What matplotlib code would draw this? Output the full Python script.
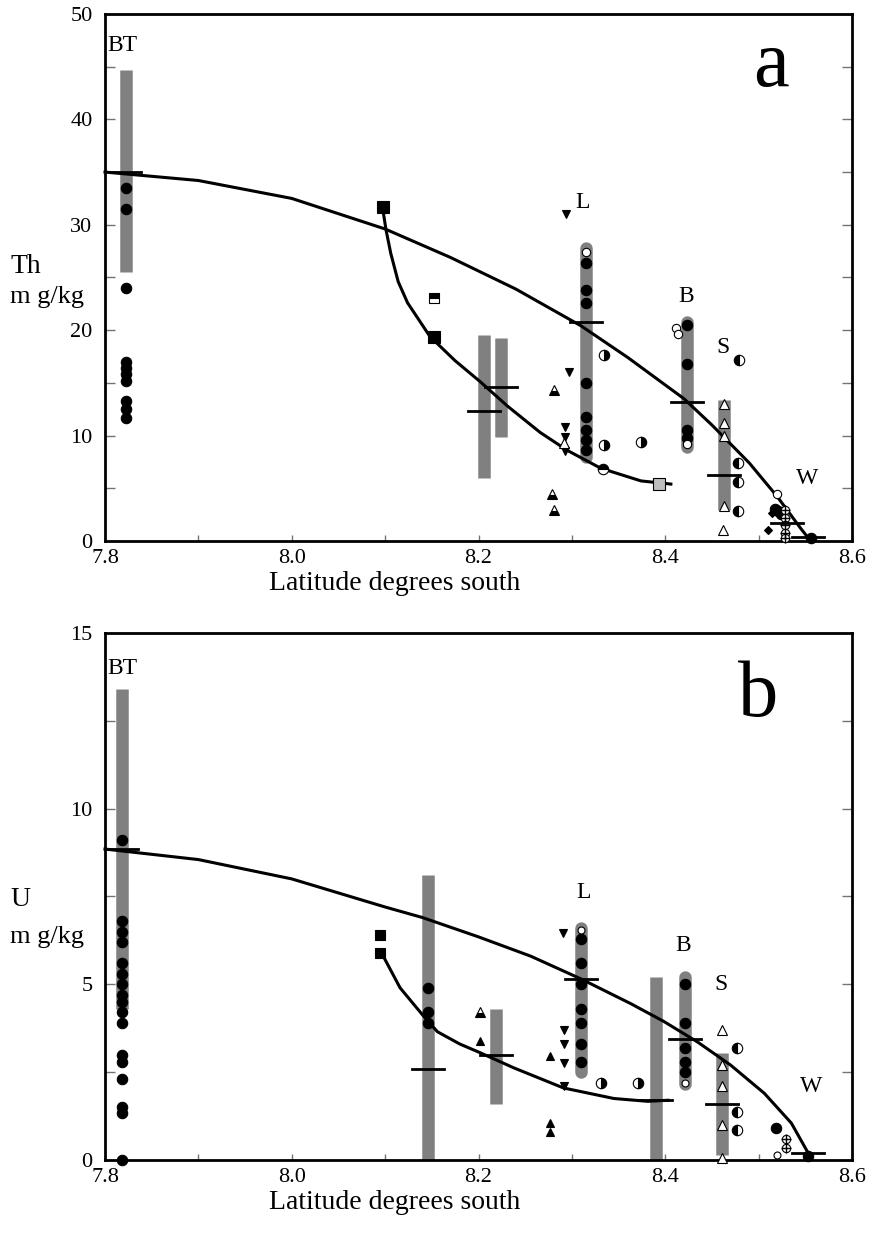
import matplotlib
matplotlib.use("Agg")
import matplotlib.pyplot as plt
from matplotlib.ticker import MultipleLocator

plt.rcParams['font.family'] = ['Liberation Serif', 'DejaVu Serif']

BAR_GREY = '#808080'

# ---------------- panel a : Th ----------------
th_bar_lat = [7.822, 8.206, 8.224, 8.315, 8.423, 8.463]
th_bar_low = [25.5, 6.0, 9.9, 8.0, 8.9, 2.9]
th_bar_high = [44.7, 19.5, 19.3, 27.8, 20.8, 13.4]
th_bar_round = [False, False, False, True, True, False]

th_mean_lat = [7.822, 8.206, 8.224, 8.315, 8.423, 8.463, 8.530, 8.553]
th_mean_val = [35.0, 12.3, 14.6, 20.8, 13.2, 6.3, 1.7, 0.4]

th_upper_lat = [7.80, 7.90, 8.00, 8.10, 8.17, 8.24, 8.31, 8.36, 8.42, 8.45, 8.49, 8.52, 8.545, 8.553]
th_upper_val = [35.0, 34.2, 32.5, 29.6, 26.9, 23.9, 20.4, 17.4, 13.5, 11.0, 7.4, 4.2, 1.2, 0.3]
th_lower_lat = [8.098, 8.101, 8.106, 8.114, 8.124, 8.148, 8.175, 8.202, 8.231, 8.266, 8.295, 8.331, 8.374, 8.406]
th_lower_val = [31.2, 29.5, 27.3, 24.6, 22.6, 19.4, 17.1, 15.1, 12.8, 10.3, 8.6, 6.9, 5.7, 5.4]

th_dot_lat = [7.822] * 10 + [8.315] * 8 + [8.423] * 4 + [8.518, 8.524, 8.521, 8.556]
th_dot_val = [33.5, 31.5, 24.0, 17.0, 16.4, 15.8, 15.2, 13.3, 12.5, 11.7,
              26.4, 23.8, 22.6, 15.0, 11.8, 10.5, 9.6, 8.6,
              20.5, 16.8, 10.5, 9.8,
              3.0, 2.6, 2.8, 0.3]
th_open_dot_lat = [8.315, 8.423, 8.412, 8.414, 8.520]
th_open_dot_val = [27.4, 9.2, 20.2, 19.6, 4.5]

th_halfr_lat = [8.334, 8.334, 8.374]
th_halfr_val = [17.6, 9.1, 9.4]
th_halfl_lat = [8.479, 8.478, 8.478, 8.478]
th_halfl_val = [17.2, 7.4, 5.6, 2.8]
th_halft_lat = [8.333]
th_halft_val = [6.8]

th_dtri_lat = [8.294, 8.297, 8.293, 8.293, 8.293]
th_dtri_val = [31.0, 16.0, 10.8, 9.9, 8.5]
th_utri_open_lat = [8.292, 8.463, 8.463, 8.463, 8.463, 8.462]
th_utri_open_val = [9.3, 13.0, 11.2, 10.0, 3.3, 1.0]
th_utri_half_lat = [8.281, 8.279, 8.281]
th_utri_half_val = [14.3, 4.5, 2.9]

th_sq_lat = [8.098, 8.152]
th_sq_val = [31.7, 19.4]
th_sq_half_lat = [8.152]
th_sq_half_val = [23.1]
th_sq_grey_lat = [8.393]
th_sq_grey_val = [5.4]

th_cross_lat = [8.528, 8.528, 8.528, 8.528, 8.528]
th_cross_val = [2.9, 2.2, 1.5, 0.8, 0.3]
th_diamond_lat = [8.510, 8.514]
th_diamond_val = [1.0, 2.7]

th_site_names = ['BT', 'L', 'B', 'S', 'W']
th_site_lat = [7.803, 8.311, 8.422, 8.462, 8.552]
th_site_val = [47.0, 32.1, 23.2, 18.4, 5.9]

# ---------------- panel b : U ----------------
u_bar_lat = [7.818, 8.146, 8.219, 8.310, 8.390, 8.421, 8.461]
u_bar_low = [4.3, 0.0, 1.6, 2.5, 0.0, 2.15, 0.15]
u_bar_high = [13.4, 8.1, 4.3, 6.6, 5.2, 5.2, 3.05]
u_bar_round = [False, False, False, True, False, True, False]

u_mean_lat = [7.818, 8.146, 8.219, 8.310, 8.390, 8.421, 8.461, 8.553]
u_mean_val = [8.85, 2.6, 3.0, 5.15, 1.7, 3.45, 1.6, 0.2]

u_upper_lat = [7.80, 7.90, 8.00, 8.10, 8.14, 8.20, 8.256, 8.31, 8.363, 8.398, 8.435, 8.47, 8.506, 8.535, 8.553]
u_upper_val = [8.85, 8.55, 8.0, 7.2, 6.9, 6.35, 5.8, 5.15, 4.45, 3.95, 3.35, 2.7, 1.9, 1.05, 0.2]
u_lower_lat = [8.095, 8.116, 8.141, 8.156, 8.180, 8.202, 8.238, 8.291, 8.345, 8.381, 8.403]
u_lower_val = [5.95, 4.9, 4.1, 3.65, 3.3, 3.05, 2.62, 2.05, 1.75, 1.67, 1.7]

u_dot_lat = [7.818] * 17 + [8.146] * 3 + [8.310] * 7 + [8.421] * 5 + [8.519, 8.553]
u_dot_val = [9.1, 6.8, 6.2, 5.6, 5.3, 5.0, 4.7, 4.5, 3.9, 3.0, 2.8, 2.3, 1.5, 1.35, 0.0, 4.2, 6.5,
             4.9, 4.2, 3.9,
             6.3, 5.6, 5.0, 4.3, 3.9, 3.3, 2.8,
             5.0, 3.9, 3.2, 2.8, 2.5,
             0.9, 0.1]
u_open_dot_lat = [8.310, 8.421, 8.520]
u_open_dot_val = [6.55, 2.2, 0.15]

u_halfr_lat = [8.331, 8.371]
u_halfr_val = [2.2, 2.2]
u_halfl_lat = [8.477, 8.477, 8.477]
u_halfl_val = [3.2, 1.37, 0.85]

u_dtri_lat = [8.291, 8.292, 8.292, 8.292, 8.292]
u_dtri_val = [6.45, 3.7, 3.3, 2.75, 2.1]
u_utri_lat = [8.202, 8.277, 8.277, 8.277]
u_utri_val = [3.4, 2.95, 1.05, 0.8]
u_utri_half_lat = [8.202]
u_utri_half_val = [4.2]
u_utri_open_lat = [8.461, 8.461, 8.461, 8.461, 8.461]
u_utri_open_val = [3.7, 2.7, 2.1, 1.0, 0.05]

u_sq_lat = [8.095, 8.095]
u_sq_val = [6.4, 5.9]

u_cross_lat = [8.529, 8.529]
u_cross_val = [0.6, 0.35]

u_site_names = ['BT', 'L', 'B', 'S', 'W']
u_site_lat = [7.803, 8.313, 8.419, 8.460, 8.556]
u_site_val = [14.0, 7.6, 6.1, 5.0, 2.1]


def draw_bars(ax, lat, low, high, rounded):
    for x, lo, hi, rnd in zip(lat, low, high, rounded):
        ax.plot([x, x], [lo, hi], color=BAR_GREY, lw=9,
                solid_capstyle='round' if rnd else 'butt', zorder=2)


def draw_means(ax, lat, val, half=0.017):
    for x, v in zip(lat, val):
        ax.plot([x - half, x + half], [v, v], color='black', lw=2, zorder=5)


def pts(ax, lat, val, marker, ms=7, face='black', alt=None, fill='full', edge='black', mew=0.8):
    kw = dict(linestyle='none', marker=marker, markersize=ms, markerfacecolor=face,
              markeredgecolor=edge, markeredgewidth=mew, fillstyle=fill, zorder=4)
    if alt is not None:
        kw['markerfacecoloralt'] = alt
    ax.plot(lat, val, **kw)


def style_axes(ax, ymax, major, minor):
    ax.set_xlim(7.8, 8.6)
    ax.set_ylim(0, ymax)
    ax.xaxis.set_major_locator(MultipleLocator(0.2))
    ax.xaxis.set_minor_locator(MultipleLocator(0.1))
    ax.yaxis.set_major_locator(MultipleLocator(major))
    ax.yaxis.set_minor_locator(MultipleLocator(minor))
    ax.xaxis.set_major_formatter(plt.FuncFormatter(lambda v, p: f'{v:.1f}'))
    ax.yaxis.set_major_formatter(plt.FuncFormatter(lambda v, p: f'{v:.0f}'))
    ax.tick_params(which='both', direction='in', right=True, top=False,
                   color='0.45', width=1, labelsize=16, length=7)
    ax.tick_params(axis='y', pad=9)
    ax.tick_params(axis='x', which='both', length=4, pad=6)
    for s in ax.spines.values():
        s.set_linewidth(2)
    ax.text(0.388, -0.08, 'Latitude degrees south', transform=ax.transAxes,
            ha='center', va='center', fontsize=20)


def sites(ax, names, lat, val):
    for n, x, v in zip(names, lat, val):
        ax.text(x, v, n, fontsize=17, ha='left' if n == 'BT' else 'center', va='center')


def panel_th(ax):
    draw_bars(ax, th_bar_lat, th_bar_low, th_bar_high, th_bar_round)
    ax.plot(th_upper_lat, th_upper_val, color='black', lw=2.2, zorder=3,
            solid_joinstyle='round')
    ax.plot(th_lower_lat, th_lower_val, color='black', lw=2.2, zorder=3,
            solid_joinstyle='round')
    draw_means(ax, th_mean_lat, th_mean_val)
    pts(ax, th_dot_lat, th_dot_val, 'o', ms=7.5)
    pts(ax, th_open_dot_lat, th_open_dot_val, 'o', ms=6, face='white')
    pts(ax, th_halfr_lat, th_halfr_val, 'o', ms=7.5, fill='right', alt='white')
    pts(ax, th_halfl_lat, th_halfl_val, 'o', ms=7.5, fill='left', alt='white')
    pts(ax, th_halft_lat, th_halft_val, 'o', ms=7.5, fill='top', alt='white')
    pts(ax, th_dtri_lat, th_dtri_val, 'v', ms=6)
    pts(ax, th_utri_open_lat, th_utri_open_val, '^', ms=7, face='white')
    pts(ax, th_utri_half_lat, th_utri_half_val, '^', ms=7, fill='bottom', alt='white')
    pts(ax, th_sq_lat, th_sq_val, 's', ms=8)
    pts(ax, th_sq_half_lat, th_sq_half_val, 's', ms=7, fill='top', alt='white')
    pts(ax, th_sq_grey_lat, th_sq_grey_val, 's', ms=8, face='0.75')
    pts(ax, th_cross_lat, th_cross_val, 'o', ms=6, face='white')
    pts(ax, th_cross_lat, th_cross_val, '+', ms=7, mew=1)
    pts(ax, th_diamond_lat, th_diamond_val, 'D', ms=4)
    sites(ax, th_site_names, th_site_lat, th_site_val)
    ax.text(8.513, 45.0, 'a', fontsize=58, ha='center', va='center')
    style_axes(ax, 50, 10, 5)


def panel_u(ax):
    draw_bars(ax, u_bar_lat, u_bar_low, u_bar_high, u_bar_round)
    ax.plot(u_upper_lat, u_upper_val, color='black', lw=2.2, zorder=3,
            solid_joinstyle='round')
    ax.plot(u_lower_lat, u_lower_val, color='black', lw=2.2, zorder=3,
            solid_joinstyle='round')
    draw_means(ax, u_mean_lat, u_mean_val)
    pts(ax, u_dot_lat, u_dot_val, 'o', ms=7.5)
    pts(ax, u_open_dot_lat, u_open_dot_val, 'o', ms=5, face='white')
    pts(ax, u_halfr_lat, u_halfr_val, 'o', ms=7.5, fill='right', alt='white')
    pts(ax, u_halfl_lat, u_halfl_val, 'o', ms=7.5, fill='left', alt='white')
    pts(ax, u_dtri_lat, u_dtri_val, 'v', ms=6)
    pts(ax, u_utri_lat, u_utri_val, '^', ms=6)
    pts(ax, u_utri_half_lat, u_utri_half_val, '^', ms=7, fill='bottom', alt='white')
    pts(ax, u_utri_open_lat, u_utri_open_val, '^', ms=7, face='white')
    pts(ax, u_sq_lat, u_sq_val, 's', ms=7)
    pts(ax, u_cross_lat, u_cross_val, 'o', ms=6, face='white')
    pts(ax, u_cross_lat, u_cross_val, '+', ms=7, mew=1)
    sites(ax, u_site_names, u_site_lat, u_site_val)
    ax.text(8.499, 13.2, 'b', fontsize=58, ha='center', va='center')
    style_axes(ax, 15, 5, 2.5)


def main():
    fig = plt.figure(figsize=(8.72, 12.36), dpi=100)
    ax1 = fig.add_axes([0.1204, 0.5623, 0.8567, 0.4264])
    ax2 = fig.add_axes([0.1204, 0.0615, 0.8567, 0.4264])
    panel_th(ax1)
    panel_u(ax2)
    for ax in (ax1, ax2):
        for c in ax.lines:
            c.set_clip_on(False)
    fig.text(0.012, 0.784, 'Th', fontsize=20, ha='left', va='center')
    fig.text(0.012, 0.760, 'm g/kg', fontsize=19, ha='left', va='center')
    fig.text(0.012, 0.272, 'U', fontsize=20, ha='left', va='center')
    fig.text(0.012, 0.242, 'm g/kg', fontsize=19, ha='left', va='center')
    fig.savefig('out.png', dpi=100)


if __name__ == '__main__':
    main()
